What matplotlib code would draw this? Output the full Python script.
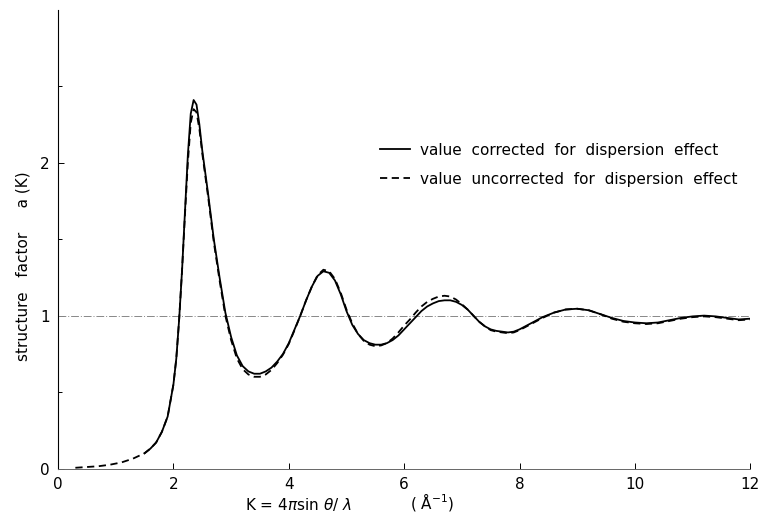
import matplotlib.pyplot as plt

# corrected for dispersion effect (solid)
k_corr = [1.5, 1.6, 1.7, 1.8, 1.9, 2.0, 2.05, 2.1, 2.15, 2.2, 2.25, 2.3, 2.35, 2.4, 2.45, 2.5,
          2.6, 2.7, 2.8, 2.9, 3.0, 3.1, 3.2, 3.3, 3.4, 3.5, 3.6, 3.7, 3.8, 3.9, 4.0,
          4.1, 4.2, 4.3, 4.4, 4.5, 4.6, 4.7, 4.8, 4.9, 5.0, 5.1, 5.2, 5.3, 5.4, 5.5,
          5.6, 5.7, 5.8, 5.9, 6.0, 6.1, 6.2, 6.3, 6.4, 6.5, 6.6, 6.7, 6.8, 6.9, 7.0,
          7.1, 7.2, 7.3, 7.4, 7.5, 7.6, 7.7, 7.8, 7.9, 8.0, 8.2, 8.4, 8.6, 8.8, 9.0,
          9.2, 9.4, 9.6, 9.8, 10.0, 10.2, 10.4, 10.6, 10.8, 11.0, 11.2, 11.4, 11.6, 11.8, 12.0]
a_corr = [0.10, 0.13, 0.17, 0.24, 0.34, 0.55, 0.72, 0.98, 1.30, 1.68, 2.05, 2.32, 2.41, 2.38, 2.25, 2.08,
          1.80, 1.50, 1.25, 1.02, 0.86, 0.74, 0.67, 0.635, 0.62, 0.62, 0.635, 0.66, 0.70, 0.75, 0.82,
          0.91, 1.00, 1.10, 1.19, 1.26, 1.29, 1.28, 1.23, 1.14, 1.03, 0.94, 0.88, 0.84, 0.82, 0.81,
          0.81, 0.82, 0.84, 0.87, 0.91, 0.95, 0.99, 1.03, 1.06, 1.08, 1.095, 1.10, 1.10, 1.09, 1.07,
          1.04, 1.00, 0.96, 0.93, 0.91, 0.90, 0.895, 0.89, 0.895, 0.91, 0.95, 0.99, 1.02, 1.04, 1.045,
          1.035, 1.01, 0.985, 0.965, 0.955, 0.95, 0.955, 0.97, 0.985, 0.995, 1.0, 0.995, 0.985, 0.975, 0.98]

# uncorrected for dispersion effect (dashed)
k_unc = [0.3, 0.5, 0.7, 0.9, 1.1, 1.3, 1.5, 1.6, 1.7, 1.8, 1.9, 2.0, 2.05, 2.1, 2.15, 2.2, 2.25,
         2.3, 2.35, 2.4, 2.45, 2.5, 2.6, 2.7, 2.8, 2.9, 3.0, 3.1, 3.2, 3.3, 3.4, 3.5, 3.6,
         3.7, 3.8, 3.9, 4.0, 4.1, 4.2, 4.3, 4.4, 4.5, 4.6, 4.7, 4.8, 4.9, 5.0, 5.1, 5.2,
         5.3, 5.4, 5.5, 5.6, 5.7, 5.8, 5.9, 6.0, 6.1, 6.2, 6.3, 6.4, 6.5, 6.6, 6.7, 6.8,
         6.9, 7.0, 7.1, 7.2, 7.3, 7.4, 7.5, 7.6, 7.7, 7.8, 7.9, 8.0, 8.2, 8.4, 8.6, 8.8,
         9.0, 9.2, 9.4, 9.6, 9.8, 10.0, 10.2, 10.4, 10.6, 10.8, 11.0, 11.2, 11.4, 11.6, 11.8, 12.0]
a_unc = [0.005, 0.01, 0.015, 0.025, 0.04, 0.065, 0.10, 0.13, 0.17, 0.24, 0.34, 0.55, 0.72, 0.98, 1.30, 1.66, 2.00,
         2.26, 2.35, 2.33, 2.22, 2.06, 1.78, 1.48, 1.23, 1.00, 0.84, 0.72, 0.65, 0.615, 0.60, 0.60, 0.615,
         0.645, 0.69, 0.745, 0.815, 0.905, 1.00, 1.10, 1.19, 1.265, 1.30, 1.29, 1.24, 1.15, 1.04, 0.95, 0.88,
         0.835, 0.81, 0.80, 0.805, 0.82, 0.85, 0.89, 0.935, 0.975, 1.02, 1.06, 1.09, 1.11, 1.125, 1.13, 1.125,
         1.105, 1.075, 1.04, 1.00, 0.96, 0.93, 0.905, 0.895, 0.89, 0.885, 0.89, 0.905, 0.945, 0.985, 1.02, 1.04,
         1.045, 1.035, 1.01, 0.98, 0.96, 0.95, 0.945, 0.95, 0.965, 0.98, 0.99, 0.995, 0.99, 0.98, 0.97, 0.975]

x_ticks = [0, 2, 4, 6, 8, 10, 12]
y_ticks = [0, 1, 2]
y_minor = [0.5, 1.5, 2.5]

plt.rcParams["font.family"] = ["DejaVu Sans"]

fig = plt.figure(figsize=(7.64, 5.16), dpi=100)
ax = fig.add_axes([0.076, 0.092, 0.906, 0.889])

ax.axhline(1.0, color="#888888", lw=0.7, ls=(0, (8, 2, 1, 2)))
ax.plot(k_corr, a_corr, color="black", lw=1.3, label="value  corrected  for  dispersion  effect")
ax.plot(k_unc, a_unc, color="black", lw=1.3, ls=(0, (4, 2.5)),
        label="value  uncorrected  for  dispersion  effect")

ax.set_xlim(0, 12)
ax.set_ylim(0, 3.0)
ax.set_xticks(x_ticks)
ax.set_yticks(y_ticks)
ax.set_yticks(y_minor, minor=True)
ax.tick_params(direction="in", length=4, width=0.7, labelsize=11, pad=6)
ax.tick_params(which="minor", direction="in", length=3, width=0.7)

for side in ("top", "right"):
    ax.spines[side].set_visible(False)
ax.spines["left"].set_linewidth(0.8)
ax.spines["bottom"].set_color("#666666")
ax.spines["bottom"].set_linewidth(0.7)

fig.text(0.03, 0.485, "structure   factor     a (K)", rotation=90, ha="center", va="center",
         fontsize=11)
fig.text(0.39, 0.022, r"K = 4$\pi$sin $\theta$/ $\lambda$", ha="center", va="center", fontsize=11)
fig.text(0.565, 0.028, r"( $\mathrm{\AA}^{-1}$)", ha="center", va="center", fontsize=11)

ax.legend(loc="upper left", bbox_to_anchor=(0.445, 0.74), frameon=False, fontsize=11,
          handlelength=2.0, handletextpad=0.6, labelspacing=0.9)

fig.savefig("out.png", dpi=100)
plt.close(fig)
